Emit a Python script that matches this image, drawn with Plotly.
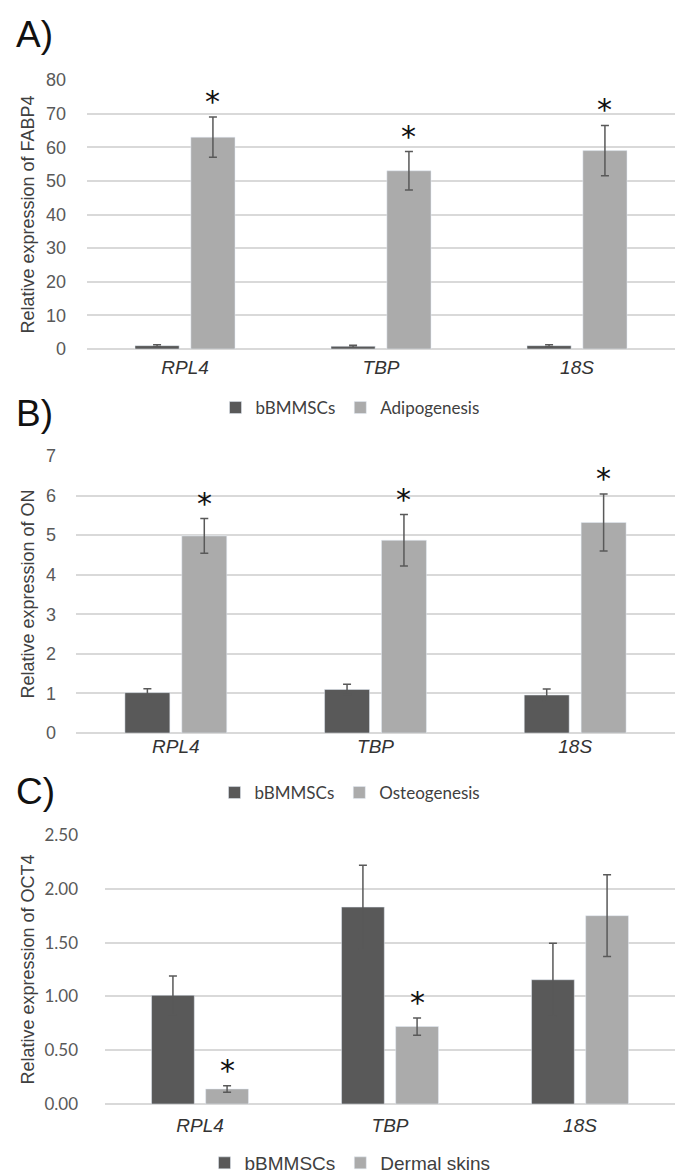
import plotly.graph_objects as go

# genes used as reference on the x axis
genes = ["RPL4", "TBP", "18S"]

# A) FABP4
fabp4_bm = [1.0, 0.8, 1.0]
fabp4_bm_err = [0.3, 0.3, 0.3]
fabp4_adipo = [63.0, 53.0, 59.0]
fabp4_adipo_err = [6.0, 5.7, 7.5]
fabp4_sig = [True, True, True]

# B) ON
on_bm = [1.02, 1.10, 0.96]
on_bm_err = [0.10, 0.13, 0.15]
on_osteo = [4.98, 4.87, 5.32]
on_osteo_err = [0.44, 0.65, 0.72]
on_sig = [True, True, True]

# C) OCT4
oct4_bm = [1.01, 1.83, 1.155]
oct4_bm_err = [0.18, 0.39, 0.34]
oct4_skin = [0.14, 0.72, 1.75]
oct4_skin_err = [0.03, 0.08, 0.38]
oct4_sig = [True, True, False]

W, H = 684, 1174
DARK = "#595959"
LIGHT = "#ababab"
GRID = "#d9d9d9"
BARGAP = 0.43


def px_x(x):
    return x / W


def px_y(y):
    return 1 - y / H


panels = [
    dict(label="A)", label_y=4, bm=fabp4_bm, bm_err=fabp4_bm_err, tr=fabp4_adipo, tr_err=fabp4_adipo_err,
         sig=fabp4_sig, tr_name="Adipogenesis", ytitle="Relative expression of FABP4", yrange=[0, 80], dtick=10,
         fmt="d", left=79, top=72, bottom=341, tickfont=("Liberation Sans", 18), tick_off=20, cat_off=5,
         titlefont=18, legend_y=400, legend_font=("Lato", 17)),
    dict(label="B)", label_y=383, bm=on_bm, bm_err=on_bm_err, tr=on_osteo, tr_err=on_osteo_err,
         sig=on_sig, tr_name="Osteogenesis", ytitle="Relative expression of ON", yrange=[0, 7], dtick=1,
         fmt="d", left=68, top=448, bottom=725, tickfont=("Liberation Sans", 18), tick_off=19, cat_off=0,
         titlefont=18, legend_y=785, legend_font=("Lato", 17)),
    dict(label="C)", label_y=761, bm=oct4_bm, bm_err=oct4_bm_err, tr=oct4_skin, tr_err=oct4_skin_err,
         sig=oct4_sig, tr_name="Dermal skins", ytitle="Relative expression of OCT4", yrange=[0, 2.5], dtick=0.5,
         fmt=".2f", left=97, top=827, bottom=1096, tickfont=("Lato", 17), tick_off=26, cat_off=8,
         titlefont=18, legend_y=1155, legend_font=("Liberation Sans", 19)),
]

fig = go.Figure()
annotations = []
layout = {}
offset = (1 - BARGAP) / 4  # centre of the second bar in each group

for i, p in enumerate(panels):
    n = "" if i == 0 else str(i + 1)
    leg = "legend" + n
    xa, ya = "x" + n, "y" + n

    fig.add_trace(go.Bar(
        x=genes, y=p["bm"], name="bBMMSCs", marker_color=DARK, xaxis=xa, yaxis=ya, legend=leg,
        error_y=dict(type="data", array=p["bm_err"], color=DARK, thickness=1.5, width=4),
    ))
    fig.add_trace(go.Bar(
        x=genes, y=p["tr"], name=p["tr_name"], marker_color=LIGHT, xaxis=xa, yaxis=ya, legend=leg,
        error_y=dict(type="data", array=p["tr_err"], color=DARK, thickness=1.5, width=4),
    ))

    layout["xaxis" + n] = dict(
        domain=[px_x(p["left"]), px_x(667)], anchor=ya, showgrid=False, showline=False,
        tickvals=genes, ticktext=["<i>" + g + "</i>" for g in genes],
        tickfont=dict(family="Liberation Sans", size=19, color="#333333"), ticklabelstandoff=p["cat_off"],
    )
    layout["yaxis" + n] = dict(
        domain=[px_y(p["bottom"]), px_y(p["top"])], anchor=xa, range=p["yrange"], dtick=p["dtick"],
        tickformat=p["fmt"], showgrid=True, gridcolor=GRID, gridwidth=1.5, zeroline=True,
        zerolinecolor=GRID, zerolinewidth=1.5, showline=False, ticklabelstandoff=p["tick_off"],
        tickfont=dict(family=p["tickfont"][0], size=p["tickfont"][1], color="#595959"),
    )
    layout[leg] = dict(
        orientation="h", x=0.5, xanchor="center", y=px_y(p["legend_y"]), yanchor="middle",
        font=dict(family=p["legend_font"][0], size=p["legend_font"][1], color="#404040"),
        itemwidth=30, bgcolor="rgba(0,0,0,0)",
    )

    # panel letter
    annotations.append(dict(
        text=p["label"], xref="paper", yref="paper", x=px_x(6), y=px_y(p["label_y"]),
        xanchor="left", yanchor="top", showarrow=False,
        font=dict(family="Liberation Sans", size=37, color="#111111"),
    ))
    # y axis title
    annotations.append(dict(
        text=p["ytitle"], xref="paper", yref="paper", x=px_x(19), y=px_y((p["top"] + p["bottom"]) / 2),
        textangle=-90, xanchor="center", yanchor="middle", showarrow=False,
        font=dict(family="Liberation Sans", size=p["titlefont"], color="#404040"),
    ))
    # significance marks
    for j, s in enumerate(p["sig"]):
        if s:
            annotations.append(dict(
                text="*", xref=xa, yref=ya, x=j + offset, y=p["tr"][j] + p["tr_err"][j],
                yanchor="bottom", yshift=-4, showarrow=False,
                font=dict(family="DejaVu Sans", size=30, color="#111111"),
            ))

fig.update_layout(
    width=W, height=H, margin=dict(l=0, r=0, t=0, b=0, autoexpand=False),
    paper_bgcolor="white", plot_bgcolor="white",
    barmode="group", bargap=BARGAP, bargroupgap=0.21,
    annotations=annotations, **layout,
)

fig.write_html("out.html")
